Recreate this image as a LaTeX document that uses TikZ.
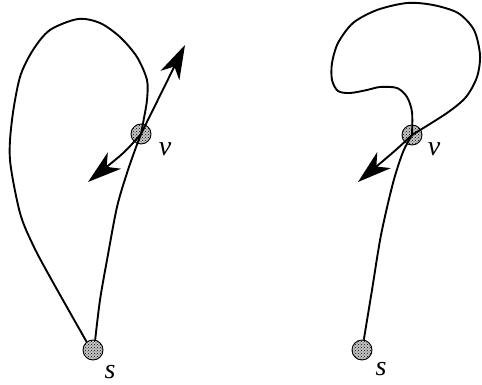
\documentclass[tikz,border=0pt]{standalone}
\usepackage{fontspec}
\setmainfont{Liberation Serif}
\usetikzlibrary{arrows.meta,patterns,positioning}
\begin{document}
\begin{tikzpicture}[x=1pt, y=-1pt,
    vertex/.style={circle, draw, line width=0.9pt, minimum size=20pt, inner sep=0pt, preaction={fill=gray!45}, pattern=crosshatch dots},
    trail/.style={line width=1.9pt, line join=round},
    flow/.style={line width=1.9pt, -{Stealth[length=34pt, width=21pt, inset=10pt]}},
    lbl/.style={font=\fontsize{28}{32}\selectfont}
  ]
    \useasboundingbox (0,0) rectangle (482,385);
    % left walk
    \node[vertex] (s1) at (93,350) {};
    \node[vertex] (v1) at (141,134) {};
    \node[lbl] (s1lab) at (110,372) {\textit{s}};
    \node[lbl] (v1lab) at (165,149) {\textit{v}};
    \draw[trail] plot[smooth] coordinates {(s1.128) (50,277) (33,245) (20,213) (10,160) (12,120) (20,77) (33,50) (50,30) (78,19) (100,23) (120,37) (137,57) (147,80) (147,100) (144,118) (v1.center)};
    \draw[trail] plot[smooth] coordinates {(s1.78) (100,300) (107,260) (117,207) (127,173) (135,150) (v1.center)};
    \draw[flow] (v1.center) .. controls (125,152) .. (88,182);
    \draw[flow] (v1.center) -- (185,45);
    % right walk
    \node[vertex] (s2) at (362,350) {};
    \node[vertex] (v2) at (412,135) {};
    \node[lbl] (s2lab) at (381,369) {\textit{s}};
    \node[lbl] (v2lab) at (434,149) {\textit{v}};
    \draw[trail] plot[smooth] coordinates {(s2.80) (372,290) (381,235) (393,183) (403,152) (v2.center)};
    \draw[trail] plot[smooth] coordinates {(v2.center) (412,112) (407,97) (397,88) (380,87) (367,90) (350,93) (338,91) (332,80) (332,63) (338,43) (353,23) (377,10) (407,3) (433,5) (458,13) (474,30) (480,55) (477,77) (466,97) (447,113) (v2.center)};
    \draw[flow] (v2.center) .. controls (396,150) .. (358,182);
\end{tikzpicture}
\end{document}
